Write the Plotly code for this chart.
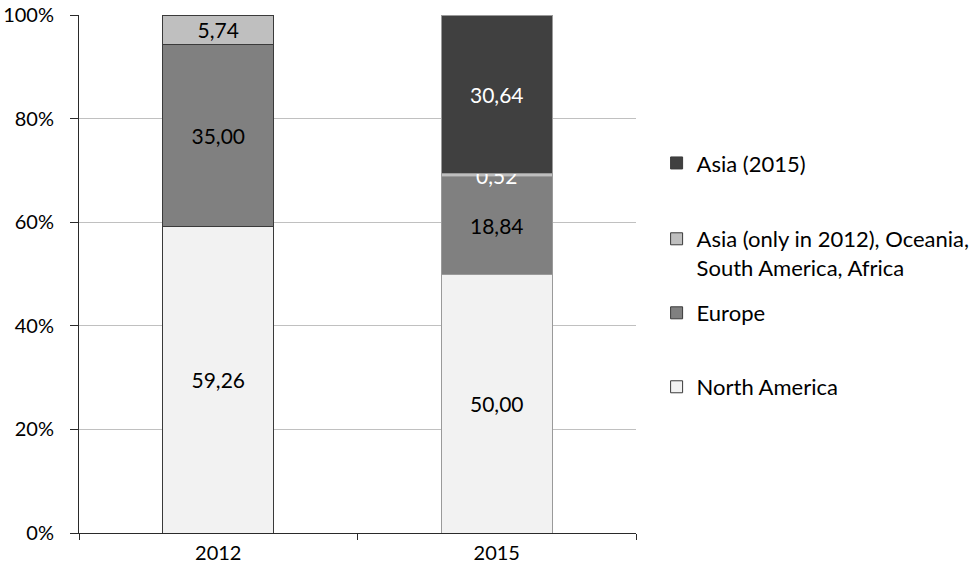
import plotly.graph_objects as go

years = ["2012", "2015"]
series_names = [
    "North America",
    "Europe",
    "Asia (only in 2012), Oceania,<br>South America, Africa",
    "Asia (2015)",
]
north_america = [59.26, 50.00]
europe = [35.00, 18.84]
other = [5.74, 0.52]
asia_2015 = [0.0, 30.64]

series_values = [north_america, europe, other, asia_2015]
colors = ["#f2f2f2", "#808080", "#bfbfbf", "#404040"]
text_colors = [["#000000", "#000000"], ["#000000", "#000000"],
               ["#000000", "#ffffff"], ["#ffffff", "#ffffff"]]
legend_ids = ["legend4", "legend3", "legend2", "legend"]
legend_y = [0.2819, 0.4247, 0.5396, 0.714]

FONT = "Lato"

def fmt(v):
    return f"{v:.2f}".replace(".", ",") if v > 0 else ""

fig = go.Figure()
for name, vals, col, tcol, lg in zip(series_names, series_values, colors, text_colors, legend_ids):
    fig.add_trace(go.Bar(
        x=years, y=vals, name=name,
        marker=dict(color=col, line=dict(color=["#3a3a3a", "#9a9a9a"], width=1)),
        text=[fmt(v) for v in vals],
        textposition="inside",
        insidetextanchor="middle",
        textangle=0,
        textfont=dict(family=FONT, size=21, color=tcol),
        legend=lg,
        hoverinfo="skip",
    ))

legend_common = dict(
    x=1.037, xanchor="left", yanchor="middle",
    font=dict(family=FONT, size=22, color="#000000"),
    bgcolor="rgba(0,0,0,0)", valign="top",
)
layout_legends = {}
for lg, ly in zip(legend_ids, legend_y):
    layout_legends[lg] = dict(legend_common, y=ly)

fig.update_layout(
    width=980, height=577,
    margin=dict(l=79, r=344, t=15, b=44, autoexpand=False),
    paper_bgcolor="white", plot_bgcolor="white",
    barmode="stack", bargap=0.6,
    uniformtext=dict(minsize=21, mode="show"),
    font=dict(family=FONT, size=20, color="#000000"),
    showlegend=True,
    xaxis=dict(
        showline=True, linecolor="#2a2a2a", linewidth=1,
        ticks="outside", tickson="boundaries", ticklen=6, tickcolor="#2a2a2a",
        tickfont=dict(family=FONT, size=20, color="#000000"),
        ticklabelstandoff=2,
        showgrid=False, automargin=False,
    ),
    yaxis=dict(
        range=[0, 100], dtick=20, ticksuffix="%",
        showline=True, linecolor="#2a2a2a", linewidth=1,
        ticks="outside", ticklen=8, tickcolor="#2a2a2a",
        ticklabelstandoff=12,
        showgrid=True, gridcolor="#c0c0c0", gridwidth=1,
        zeroline=False, automargin=False,
        tickfont=dict(family=FONT, size=20, color="#000000"),
    ),
    **layout_legends,
)

fig.write_html("out.html", config={"displayModeBar": False},
               post_script="document.body.style.margin='0';")
